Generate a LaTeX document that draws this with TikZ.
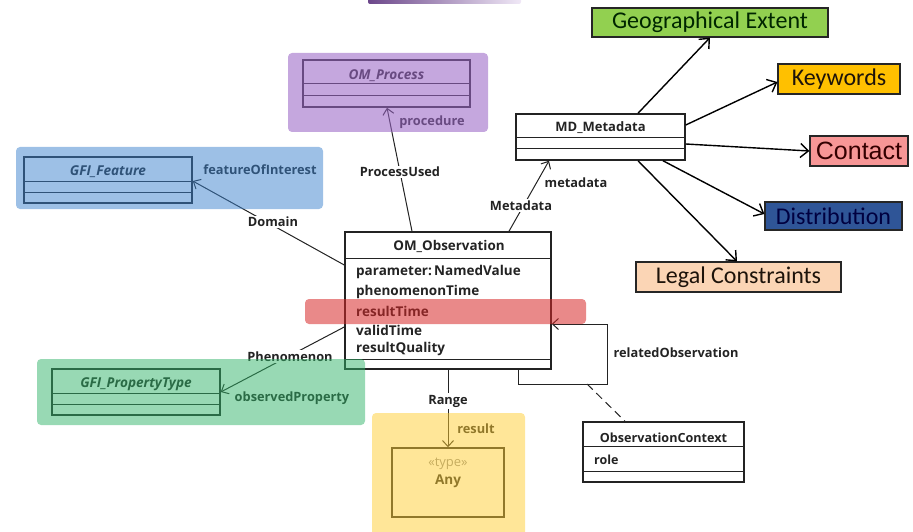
\documentclass[tikz,border=0pt]{standalone}
\usepackage{fontspec}
\setmainfont{Open Sans}
\newfontfamily\calib{Carlito}
\newfontfamily\arialf{Liberation Sans}
\usetikzlibrary{arrows.meta}
\definecolor{ovpurple}{RGB}{155,103,198}
\definecolor{ovblue}{RGB}{60,130,205}
\definecolor{ovgreen}{RGB}{50,180,105}
\definecolor{ovyellow}{RGB}{255,205,50}
\definecolor{ovred}{RGB}{215,40,40}
\definecolor{geofill}{RGB}{146,208,80}
\definecolor{kwfill}{RGB}{255,192,0}
\definecolor{ctfill}{RGB}{247,150,150}
\definecolor{distfill}{RGB}{47,85,151}
\definecolor{legfill}{RGB}{251,213,181}
\definecolor{ink}{RGB}{35,35,35}
\begin{document}
\begin{tikzpicture}[x=1pt,y=-1pt,
  umlbox/.style={draw=ink, line width=1.5pt, inner sep=0pt},
  cname/.style={font=\bfseries\fontsize{13}{15}\selectfont, text=ink, inner sep=0pt},
  iname/.style={font=\bfseries\itshape\fontsize{13.6}{15}\selectfont, text=ink, inner sep=0pt},
  attr/.style={font=\bfseries\fontsize{13.5}{16}\selectfont, text=ink, inner sep=0pt, anchor=west},
  sep/.style={draw=ink, line width=1pt},
  lab/.style={font=\bfseries\fontsize{12.8}{14}\selectfont, text=ink, inner sep=1.5pt},
  onl/.style={lab, fill=white},
  conn/.style={draw=ink, line width=1pt},
  arr/.style={conn, -{Straight Barb[length=6pt,width=11pt,line width=1pt]}},
  marr/.style={draw=black, line width=1.4pt, -{Straight Barb[length=8pt,width=14pt,line width=1.4pt]}},
  tag/.style={draw=black!85, line width=1.2pt, inner sep=0pt, font=\calib\fontsize{24}{28}\selectfont},
  overlay/.style={rounded corners=4pt, fill opacity=#1}
]
\useasboundingbox (0,0) rectangle (913,532);

% ---------- top purple bar (cut off) ----------
\shade[left color=ovpurple!70!black, right color=ovpurple!15, rounded corners=2pt] (368,-3) rectangle (521,4);

% ---------- UML classes ----------
% OM_Process
\node[umlbox, minimum width=167pt, minimum height=47pt] (proc) at (386.5,83.5) {};
\node[iname] (procT) at (386.5,75.5) {OM\_Process};
\draw[sep] (proc.west |- 0,84) -- (proc.east |- 0,84);
\draw[sep] (proc.west |- 0,96) -- (proc.east |- 0,96);

% GFI_Feature
\node[umlbox, minimum width=168pt, minimum height=46pt] (feat) at (108,180) {};
\node[iname] (featT) at (108,172) {GFI\_Feature};
\draw[sep] (feat.west |- 0,181) -- (feat.east |- 0,181);
\draw[sep] (feat.west |- 0,192) -- (feat.east |- 0,192);

% GFI_PropertyType
\node[umlbox, minimum width=168pt, minimum height=46pt] (prop) at (136,392) {};
\node[iname] (propT) at (136,384) {GFI\_PropertyType};
\draw[sep] (prop.west |- 0,393) -- (prop.east |- 0,393);
\draw[sep] (prop.west |- 0,404) -- (prop.east |- 0,404);

% MD_Metadata
\node[umlbox, minimum width=169pt, minimum height=46pt] (md) at (600.5,137) {};
\node[cname] (mdT) at (600.5,128) {MD\_Metadata};
\draw[sep] (md.west |- 0,138) -- (md.east |- 0,138);
\draw[sep] (md.west |- 0,149) -- (md.east |- 0,149);

% OM_Observation
\node[umlbox, minimum width=206pt, minimum height=137pt] (obs) at (448,300.5) {};
\node[cname, font=\bfseries\fontsize{13.4}{16}\selectfont] (obsT) at (449,246) {OM\_Observation};
\draw[sep] (obs.west |- 0,258) -- (obs.east |- 0,258);
\node[attr] (a1) at (356,272) {parameter:\,NamedValue};
\node[attr] (a2) at (356,291.5) {phenomenonTime};
\node[attr] (a3) at (356,311) {resultTime};
\node[attr] (a4) at (356,330) {validTime};
\node[attr] (a5) at (356,349) {resultQuality};
\draw[sep] (obs.west |- 0,359) -- (obs.east |- 0,359);

% Any
\node[umlbox, minimum width=112pt, minimum height=69pt] (any) at (448,482.5) {};
\node[font=\fontsize{13}{15}\selectfont, text=black!45, inner sep=0pt] (anyS) at (448,463.5) {«type»};
\node[cname, font=\bfseries\fontsize{13.5}{15}\selectfont] (anyT) at (448,481) {Any};

% ObservationContext
\node[umlbox, minimum width=161pt, minimum height=60pt] (ctx) at (663.5,452) {};
\node[cname, font=\bfseries\fontsize{12.6}{14}\selectfont] (ctxT) at (663.5,437.5) {ObservationContext};
\draw[sep] (ctx.west |- 0,446) -- (ctx.east |- 0,446);
\node[attr, font=\bfseries\fontsize{12.5}{14}\selectfont] (role) at (594,460) {role};
\draw[sep] (ctx.west |- 0,471) -- (ctx.east |- 0,471);

% ---------- associations ----------
\draw[arr] (obs.north -| 412,0) -- (proc.south -| 387,0);
\draw[arr] (obs.west |- 0,265) -- (feat.east |- 0,181);
\draw[arr] (obs.north -| 509,0) -- (md.south -| 549,0);
\draw[arr] (obs.west |- 0,327) -- (prop.east |- 0,392);
\draw[arr] (obs.south -| 448,0) -- (any.north);
\coordinate (loopA) at (518,384);
\coordinate (loopB) at (607,384);
\coordinate (loopC) at (607,324);
\coordinate (loopD) at (587,384);
\draw[arr] (obs.south -| loopA) -- (loopA) -- (loopB) -- (loopC) -- (obs.east |- loopC);
\draw[conn, dash pattern=on 8pt off 5pt] (loopD) -- (ctx.north -| 625,0);

% association labels
\node[onl] (lProcU) at (400,172) {ProcessUsed};
\node[lab] (lProc) at (432,122) {procedure};
\node[onl] (lDom) at (273,222) {Domain};
\node[lab] (lFoi) at (260,170) {featureOfInterest};
\node[onl] (lMetaU) at (521,205.5) {Metadata};
\node[lab] (lMeta) at (576,182.5) {metadata};
\node[onl] (lPhen) at (290,356.5) {Phenomenon};
\node[lab] (lObsP) at (292,398.5) {observedProperty};
\node[onl] (lRange) at (448,401) {Range};
\node[lab] (lRes) at (476,428.5) {result};
\node[lab] (lRel) at (676,352.5) {relatedObservation};

% ---------- metadata elements ----------
\node[tag, fill=geofill, minimum width=236pt, minimum height=29pt, text=black!85!green] (geo) at (710,22.5) {Geographical Extent};
\node[tag, fill=kwfill, minimum width=122pt, minimum height=30pt, text=black!85!brown] (kw) at (839,79) {Keywords};
\node[tag, fill=ctfill, minimum width=98pt, minimum height=30pt, text=black!80!red, font=\arialf\fontsize{25}{28}\selectfont] (ct) at (859,151) {Contact};
\node[tag, fill=distfill, minimum width=137pt, minimum height=28pt, text=black!75!blue] (dist) at (833.5,216) {Distribution};
\node[tag, fill=legfill, minimum width=205pt, minimum height=30pt, text=black!85!brown] (leg) at (738.5,277) {Legal Constraints};

\draw[marr] (md.north -| 638,0) -- (geo.south -| 710,0);
\draw[marr] (md.east |- 0,125) -- (kw.west |- 0,82);
\draw[marr] (md.east |- 0,144) -- (ct.west |- 0,151);
\draw[marr] (md.south -| 663,0) -- (dist.west |- 0,214);
\draw[marr] (md.south -| 638,0) -- (leg.north -| 737,0);

% ---------- translucent colour overlays ----------
\fill[overlay=0.58, fill=ovpurple] (288,53) rectangle (488,132);
\fill[overlay=0.5, fill=ovblue] (16,147) rectangle (323,209);
\fill[overlay=0.5, fill=ovgreen] (37,359) rectangle (365,425);
\fill[overlay=0.5, fill=ovyellow] (372,413) rectangle (525,536);
\fill[overlay=0.55, fill=ovred] (305,299) rectangle (586,324);
\end{tikzpicture}
\end{document}
